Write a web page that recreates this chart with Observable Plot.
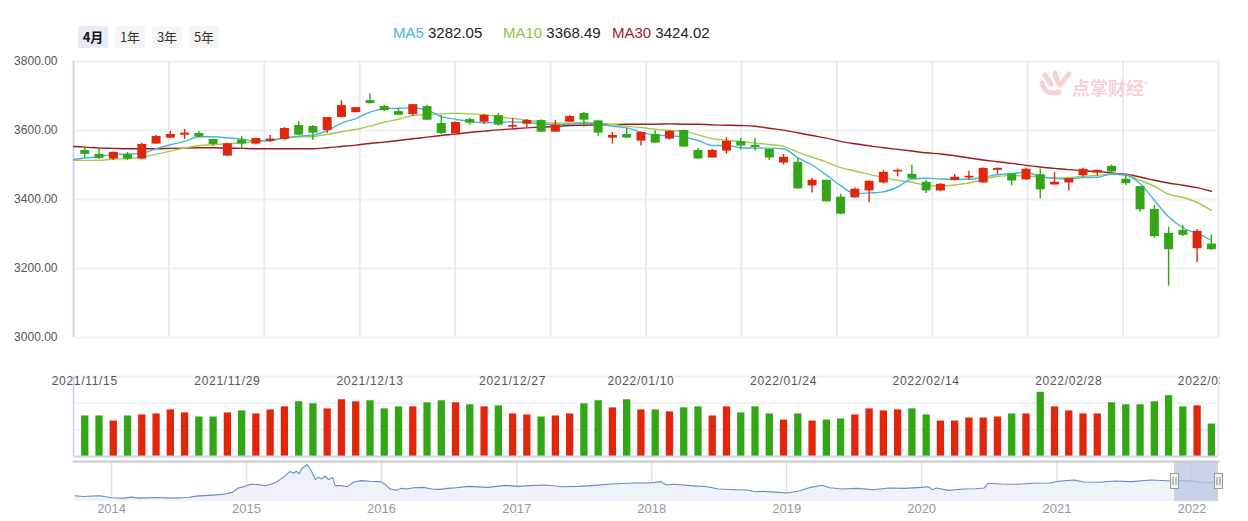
<!DOCTYPE html>
<html><head><meta charset="utf-8">
<script src="https://cdn.jsdelivr.net/npm/d3@7"></script>
<script src="https://cdn.jsdelivr.net/npm/@observablehq/plot@0.6"></script>
<style>
body{margin:0;background:#fff;font-family:"Liberation Sans",Arial,"Noto Sans CJK SC",sans-serif;}
#root{position:relative;width:1248px;height:521px;overflow:hidden;background:#fff;}
#root svg{max-width:none !important;}
.btn{position:absolute;top:26px;width:30px;height:22px;line-height:22px;font-size:13px;text-align:center;border-radius:2px;background:#f5f5f5;color:#333;font-family:"Noto Sans CJK SC","Liberation Sans",sans-serif;}
.btn.on{background:#e6ebf5;color:#111;font-weight:bold;}
.leg{position:absolute;top:24px;font-size:15px;color:#222;white-space:nowrap;}
#price,#vol,#nav{position:absolute;left:0;}
#price{top:51px;}
#vol{top:360px;width:1220px;height:100px;overflow:hidden;}
#vol svg text{letter-spacing:.7px;}
#nav{top:455px;}
#wm{position:absolute;left:1072px;top:74px;font-size:18px;font-weight:bold;color:#f6d2d2;font-family:"Noto Sans CJK SC",sans-serif;}
#wm sup{font-size:9px;font-weight:normal;}
#logo{position:absolute;left:1038px;top:70px;}
</style></head>
<body><div id="root">
<div class="btn on" style="left:78px">4月</div>
<div class="btn" style="left:115px">1年</div>
<div class="btn" style="left:152px">3年</div>
<div class="btn" style="left:189px">5年</div>
<div id="legend"></div>
<div id="price"></div>
<svg id="logo" width="36" height="28" viewBox="0 0 36 28"><g fill="none" stroke="#f6d2d2" stroke-width="5" stroke-linecap="round"><path d="M7 5 L13 14"/><path d="M17 3 L20 13"/><path d="M31 4 Q26 10 22 15"/><path d="M4 13 Q7 26 21 22"/></g></svg>
<div id="wm">点掌财经<sup>®</sup></div>
<div id="vol"></div>
<div id="nav"></div>
</div>
<script>
// ---------- data ----------
const dates = ["2021/11/15","2021/11/16","2021/11/17","2021/11/18","2021/11/19","2021/11/22","2021/11/23","2021/11/24","2021/11/25","2021/11/26",
"2021/11/29","2021/11/30","2021/12/01","2021/12/02","2021/12/03","2021/12/06","2021/12/07","2021/12/08","2021/12/09","2021/12/10",
"2021/12/13","2021/12/14","2021/12/15","2021/12/16","2021/12/17","2021/12/20","2021/12/21","2021/12/22","2021/12/23","2021/12/24",
"2021/12/27","2021/12/28","2021/12/29","2021/12/30","2021/12/31","2022/01/04","2022/01/05","2022/01/06","2022/01/07","2022/01/10",
"2022/01/11","2022/01/12","2022/01/13","2022/01/14","2022/01/17","2022/01/18","2022/01/19","2022/01/20","2022/01/21","2022/01/24",
"2022/01/25","2022/01/26","2022/01/27","2022/01/28","2022/02/07","2022/02/08","2022/02/09","2022/02/10","2022/02/11","2022/02/14",
"2022/02/15","2022/02/16","2022/02/17","2022/02/18","2022/02/21","2022/02/22","2022/02/23","2022/02/24","2022/02/25","2022/02/28",
"2022/03/01","2022/03/02","2022/03/03","2022/03/04","2022/03/07","2022/03/08","2022/03/09","2022/03/10","2022/03/11","2022/03/14"];
const opens = [3542.3,3530.7,3517.3,3529.8,3517.3,3560.6,3577.9,3586.5,3591.3,3574.0,
3525.9,3572.1,3560.6,3568.3,3574.0,3614.4,3611.5,3600.0,3637.5,3651.9,
3686.6,3669.3,3654.8,3646.2,3669.3,3620.2,3590.4,3631.7,3624.0,3643.3,
3609.6,3618.3,3628.9,3595.2,3624.0,3649.1,3627.9,3577.9,3588.5,3569.2,
3588.5,3575.0,3600.0,3542.3,3520.2,3540.4,3567.3,3556.7,3545.2,3505.7,
3507.6,3439.3,3455.7,3406.6,3404.7,3424.9,3448.0,3479.8,3473.0,3449.9,
3424.9,3454.7,3462.4,3448.0,3484.6,3474.0,3456.7,3472.0,3442.2,3448.0,
3469.2,3476.9,3496.1,3458.6,3437.4,3371.0,3301.8,3310.4,3257.5,3271.0];
const closes = [3530.7,3519.2,3536.5,3517.3,3559.6,3582.7,3588.5,3592.3,3580.8,3559.6,
3561.5,3560.6,3576.9,3575.0,3605.8,3586.5,3592.3,3637.5,3672.2,3666.4,
3677.9,3657.7,3644.3,3675.0,3629.8,3591.3,3623.1,3621.2,3643.3,3615.4,
3614.4,3628.9,3595.2,3615.4,3640.4,3629.8,3592.3,3585.6,3577.9,3594.2,
3563.4,3597.1,3551.9,3517.3,3542.3,3568.3,3554.8,3550.9,3520.2,3522.1,
3430.7,3455.7,3393.2,3357.6,3429.7,3452.8,3478.8,3484.6,3459.5,3424.9,
3444.2,3464.4,3467.2,3490.3,3490.3,3453.8,3487.5,3427.8,3450.0,3460.5,
3487.5,3484.6,3479.8,3446.1,3370.1,3292.2,3254.6,3296.0,3307.6,3254.5];
const highs = [3551.9,3549.0,3537.5,3536.5,3563.4,3585.6,3597.1,3602.9,3597.0,3575.0,
3563.4,3582.7,3577.5,3585.6,3608.7,3626.0,3614.4,3638.0,3686.6,3667.0,
3706.8,3673.1,3663.5,3675.5,3673.1,3643.3,3625.0,3634.6,3646.2,3649.1,
3633.7,3631.7,3630.8,3628.9,3643.3,3651.9,3628.0,3594.2,3605.8,3595.0,
3599.0,3600.0,3600.5,3548.1,3545.2,3579.8,3576.9,3576.9,3545.5,3530.7,
3519.2,3461.5,3456.0,3415.3,3433.6,3453.5,3484.6,3488.4,3499.0,3455.7,
3446.1,3473.0,3481.7,3491.0,3491.0,3474.5,3490.3,3487.5,3478.8,3461.0,
3490.3,3485.0,3500.0,3470.1,3437.5,3382.6,3320.1,3324.9,3313.3,3297.0];
const lows = [3521.1,3515.3,3513.4,3513.4,3515.3,3560.0,3577.0,3574.0,3578.8,3554.8,
3525.0,3546.1,3557.7,3566.3,3571.1,3586.0,3571.1,3591.3,3637.0,3651.0,
3677.0,3654.8,3644.0,3641.4,3629.0,3588.5,3590.0,3615.4,3618.3,3612.5,
3601.9,3608.7,3595.0,3595.0,3624.0,3609.6,3583.6,3560.6,3577.5,3554.8,
3563.0,3572.1,3551.5,3517.0,3520.0,3531.7,3543.2,3540.4,3513.4,3500.0,
3430.0,3419.1,3393.0,3355.7,3404.0,3390.3,3445.1,3465.3,3459.0,3417.2,
3423.0,3454.0,3455.7,3447.5,3473.0,3439.3,3456.0,3401.8,3442.0,3424.9,
3465.3,3468.2,3474.9,3440.3,3362.4,3287.4,3148.8,3293.1,3217.1,3251.8];
const volumes = [2280,2280,1995,2280,2337,2394,2622,2451,2223,2223,
2451,2565,2394,2622,2793,3078,2964,2679,3192,3078,
3135,2679,2793,2793,3021,3135,3021,2907,2793,2850,
2394,2337,2223,2280,2394,2964,3135,2736,3192,2622,
2622,2508,2736,2793,2280,2793,2451,2793,2394,2052,
2394,1995,2052,2109,2337,2679,2565,2622,2679,2337,
1995,1995,2166,2166,2223,2394,2394,3610,2793,2565,
2394,2394,3021,2907,2907,3078,3420,2793,2850,1824];
// moving averages, first value belongs to the session before 2021/11/15 (index -1)
const maFirstIndex = -1;
const ma5 = [3514.4,
3520.2,3524.0,3530.7,3531.7,3533.6,3547.1,3558.6,3568.3,3581.7,3581.7,
3578.8,3575.0,3570.2,3570.2,3578.8,3583.6,3586.5,3600.0,3621.2,3634.6,
3652.9,3663.5,3664.5,3665.4,3659.6,3640.4,3632.7,3626.9,3622.1,3624.0,
3625.0,3623.1,3619.2,3616.4,3618.3,3621.2,3618.3,3612.5,3607.7,3595.2,
3586.5,3584.6,3580.8,3571.1,3556.7,3556.7,3550.0,3549.0,3549.0,3547.1,
3521.1,3500.0,3471.1,3440.3,3417.2,3419.1,3422.0,3436.5,3459.5,3461.5,
3459.5,3458.6,3458.6,3464.4,3472.0,3474.9,3478.8,3466.3,3461.5,3459.5,
3463.4,3464.4,3474.0,3471.1,3446.1,3398.0,3349.9,3318.1,3301.8,3282.05];
const ma10 = [3513.4,
3513.4,3513.4,3517.3,3518.2,3523.0,3530.7,3540.4,3549.0,3555.7,3558.6,
3561.5,3564.4,3568.3,3573.1,3577.9,3580.8,3582.7,3588.5,3596.2,3602.9,
3612.5,3624.0,3632.7,3643.3,3646.2,3648.1,3650.0,3648.1,3646.2,3640.4,
3634.6,3630.8,3624.0,3621.2,3621.2,3624.0,3621.2,3617.3,3612.5,3608.7,
3603.8,3600.0,3598.1,3587.5,3576.9,3571.1,3568.3,3563.4,3559.6,3553.8,
3537.5,3523.0,3508.6,3492.3,3482.6,3473.0,3463.4,3455.7,3449.9,3441.3,
3439.3,3442.2,3448.0,3457.6,3467.2,3469.2,3468.2,3465.3,3461.5,3463.4,
3467.2,3470.1,3473.0,3471.1,3455.7,3438.4,3415.3,3405.7,3391.3,3368.49];
const ma30 = [3553.8,
3551.9,3549.0,3548.1,3547.1,3547.1,3547.1,3548.1,3549.0,3550.0,3550.0,
3549.0,3548.1,3547.1,3547.1,3547.1,3547.1,3547.1,3550.0,3553.8,3557.7,
3562.5,3566.3,3571.1,3575.9,3580.8,3585.6,3589.4,3594.2,3598.1,3601.9,
3604.8,3607.7,3609.6,3611.5,3614.4,3615.4,3616.4,3617.3,3618.3,3618.3,
3618.3,3619.2,3618.3,3618.3,3616.4,3615.4,3614.4,3612.5,3606.7,3601.0,
3593.3,3585.6,3577.9,3568.3,3561.5,3555.7,3550.0,3545.2,3540.4,3535.5,
3531.7,3526.9,3520.2,3514.4,3509.6,3504.8,3499.0,3494.2,3490.3,3486.5,
3483.6,3480.7,3476.9,3473.0,3465.3,3455.7,3448.0,3441.3,3434.5,3424.02];
const priceTicks = [3000,3200,3400,3600,3800];
const volGrid = [1500,3000,4500];
const labelDates = ["2021/11/15","2021/11/29","2021/12/13","2021/12/27","2022/01/10","2022/01/24","2022/02/14","2022/02/28","2022/03/14"];
// navigator (overview of the index since 2013)
const navDates = ["2013-09-24","2013-10-16","2013-11-29","2014-01-01","2014-02-03","2014-02-24","2014-03-17","2014-05-01","2014-06-14","2014-07-27",
"2014-08-18","2014-10-01","2014-11-03","2014-11-24","2014-12-10","2014-12-28","2015-01-12","2015-02-03","2015-02-20","2015-03-08",
"2015-03-25","2015-04-16","2015-04-28","2015-05-08","2015-05-16","2015-05-23","2015-05-31","2015-06-14","2015-06-25","2015-07-06",
"2015-07-14","2015-07-24","2015-08-02","2015-08-11","2015-08-22","2015-08-29","2015-09-15","2015-10-01","2015-10-17","2015-11-08",
"2015-11-30","2015-12-23","2016-01-04","2016-01-25","2016-02-12","2016-02-22","2016-03-10","2016-03-27","2016-04-24","2016-05-16",
"2016-06-07","2016-06-29","2016-07-21","2016-08-23","2016-10-16","2016-11-29","2017-01-03","2017-02-05","2017-03-20","2017-05-04",
"2017-06-17","2017-07-31","2017-09-13","2017-10-27","2017-11-15","2017-12-29","2018-01-26","2018-02-09","2018-03-03","2018-04-16",
"2018-05-30","2018-07-01","2018-08-14","2018-09-16","2018-10-08","2018-10-30","2018-12-12","2019-01-01","2019-02-03","2019-03-07",
"2019-04-07","2019-04-28","2019-05-30","2019-07-12","2019-08-23","2019-10-05","2019-11-17","2019-12-30","2020-01-19","2020-01-30",
"2020-02-10","2020-03-13","2020-04-25","2020-05-27","2020-06-18","2020-06-29","2020-08-04","2020-09-16","2020-10-30","2020-12-12",
"2021-01-06","2021-02-17","2021-03-14","2021-04-27","2021-06-08","2021-07-20","2021-09-13","2021-11-06","2021-12-18","2022-01-30","2022-03-14"];
const navValues = [2234,2170,2234,2043,2011,2107,2011,2075,2011,2075,
2202,2298,2393,2553,2967,3126,3318,3286,3190,3318,
3572,4146,4529,4369,4560,4306,4847,5166,4624,3764,
3987,3828,4082,3764,3955,3190,3190,3094,3509,3668,
3604,3572,3509,2871,2744,2935,2871,2999,3031,2871,
2840,2935,2999,3126,3031,3222,3126,3190,3254,3094,
3126,3222,3349,3413,3445,3445,3572,3254,3318,3190,
3094,2871,2808,2776,2616,2648,2553,2489,2680,3031,
3222,2999,2871,2935,2808,2967,2935,3031,3094,2808,
2967,2744,2871,2903,2967,3413,3349,3318,3413,3445,
3604,3732,3541,3509,3636,3572,3732,3636,3668,3509,3445];
const navYears = ["2014","2015","2016","2017","2018","2019","2020","2021","2022"];
const navStart = "2013-09-20", navEnd = "2022-03-14";
const selStart = "2021-11-15";

// ---------- styles ----------
const RED = "#e0260c", GREEN = "#33a616";
const C5 = "#46b6dc", C10 = "#a6c94c", C30 = "#9e1a20";
const FONT = '"Liberation Sans", Arial, sans-serif';

// ---------- tables ----------
const candles = dates.map((d, i) => ({i, date: d, open: opens[i], close: closes[i], high: highs[i], low: lows[i], vol: volumes[i]}));
const col = d => d.close >= d.open ? RED : GREEN;
const maRows = arr => arr.map((v, k) => ({i: k + maFirstIndex, v}));
const labelRows = labelDates.map(d => ({i: dates.indexOf(d), text: d}));
const parse = d3.utcParse("%Y-%m-%d");
const nav = navDates.map((d, k) => ({date: parse(d), value: navValues[k]}));
const yearDates = navYears.map(y => parse(y + "-01-01"));

// x domain: candles are spaced evenly, first candle a little inside the frame
const xDomain = [-0.79, 79.5];
const gridX = d3.range(13).map(k => xDomain[0] + k * (xDomain[1] - xDomain[0]) / 12);

// legend
const lastOf = a => a[a.length - 1].toFixed(2);
document.getElementById("legend").innerHTML =
  `<div class="leg" style="left:393px"><span style="color:${C5}">MA5</span> ${lastOf(ma5)}</div>` +
  `<div class="leg" style="left:503px"><span style="color:#8cc43c">MA10</span> ${lastOf(ma10)}</div>` +
  `<div class="leg" style="left:612px"><span style="color:${C30}">MA30</span> ${lastOf(ma30)}</div>`;

// ---------- price panel ----------
const price = Plot.plot({
  width: 1248, height: 296, marginTop: 10, marginBottom: 10, marginLeft: 73, marginRight: 30,
  style: {fontFamily: FONT, fontSize: "12px", color: "#555", background: "transparent"},
  x: {domain: xDomain, axis: null},
  y: {domain: [3000, 3800], ticks: priceTicks, tickFormat: d => d.toFixed(2), tickSize: 0, tickPadding: 16, label: null},
  marks: [
    Plot.ruleY(priceTicks, {stroke: "#eef1f5", strokeWidth: 2}),
    Plot.ruleX(gridX, {stroke: "#e7ecf2", strokeWidth: 2}),
    Plot.ruleX([xDomain[0]], {stroke: "#c6d5ea", strokeWidth: 1.5}),
    Plot.line(maRows(ma30), {x: "i", y: "v", stroke: C30, strokeWidth: 1.4, curve: "monotone-x", clip: true}),
    Plot.line(maRows(ma10), {x: "i", y: "v", stroke: C10, strokeWidth: 1.4, curve: "monotone-x", clip: true}),
    Plot.line(maRows(ma5), {x: "i", y: "v", stroke: C5, strokeWidth: 1.4, curve: "monotone-x", clip: true}),
    Plot.ruleX(candles, {x: "i", y1: "low", y2: "high", stroke: col, strokeWidth: 1.4}),
    Plot.ruleX(candles, {x: "i", y1: "open", y2: "close", stroke: col, strokeWidth: 9})
  ]
});
document.getElementById("price").append(price);

// ---------- volume panel ----------
const vol = Plot.plot({
  width: 1248, height: 100, marginTop: 16, marginBottom: 4, marginLeft: 73, marginRight: 30,
  style: {fontFamily: FONT, fontSize: "12px", color: "#555", background: "transparent"},
  x: {domain: xDomain, axis: null},
  y: {domain: [0, 4500], axis: null},
  marks: [
    Plot.ruleY(volGrid, {stroke: "#eef1f5", strokeWidth: 2}),
    Plot.ruleX([xDomain[1]], {stroke: "#e7ecf2", strokeWidth: 2}),
    Plot.ruleX([xDomain[0]], {stroke: "#c6d5ea", strokeWidth: 1.5}),
    Plot.ruleX(candles, {x: "i", y1: 0, y2: "vol", stroke: col, strokeWidth: 7.3}),
    Plot.ruleY([0], {stroke: "#c6d5ea", strokeWidth: 2}),
    Plot.text(labelRows, {x: "i", text: "text", frameAnchor: "top", fill: "#555", fontSize: 12})
  ]
});
document.getElementById("vol").append(vol);

// ---------- navigator ----------
const selRows = [{x1: parse(selStart), x2: parse(navEnd)}];
const handleRows = [{x: parse(selStart)}, {x: parse(navEnd)}];
const navPlot = Plot.plot({
  width: 1248, height: 66, marginTop: 6, marginBottom: 20, marginLeft: 73, marginRight: 30,
  style: {fontFamily: FONT, fontSize: "13px", color: "#999", background: "transparent", overflow: "visible"},
  x: {type: "utc", domain: [parse(navStart), parse(navEnd)], ticks: yearDates, tickFormat: d3.utcFormat("%Y"), tickSize: 0, tickPadding: 2, label: null},
  y: {domain: [1690, 5480], axis: null},
  marks: [
    Plot.ruleX(yearDates, {stroke: "#e2e2e2", strokeWidth: 1.5}),
    Plot.areaY(nav, {x: "date", y: "value", fill: "#eef3f9", clip: true}),
    Plot.lineY(nav, {x: "date", y: "value", stroke: "#6a8cc2", strokeWidth: 1.1, clip: true}),
    Plot.rect(selRows, {x1: "x1", x2: "x2", fill: "#b9c6e2", fillOpacity: 0.75}),
    Plot.frame({anchor: "top", stroke: "#c9c9c9", strokeWidth: 2}),
    Plot.ruleX(handleRows, {x: "x", stroke: "#999", strokeWidth: 9, insetTop: 12, insetBottom: 12}),
    Plot.ruleX(handleRows, {x: "x", stroke: "#f3f3f3", strokeWidth: 7, insetTop: 13, insetBottom: 13}),
    Plot.ruleX(handleRows, {x: "x", stroke: "#888", strokeWidth: 1, dx: -1.5, insetTop: 16, insetBottom: 16}),
    Plot.ruleX(handleRows, {x: "x", stroke: "#888", strokeWidth: 1, dx: 1.5, insetTop: 16, insetBottom: 16})
  ]
});
document.getElementById("nav").append(navPlot);
</script>
</body></html>
